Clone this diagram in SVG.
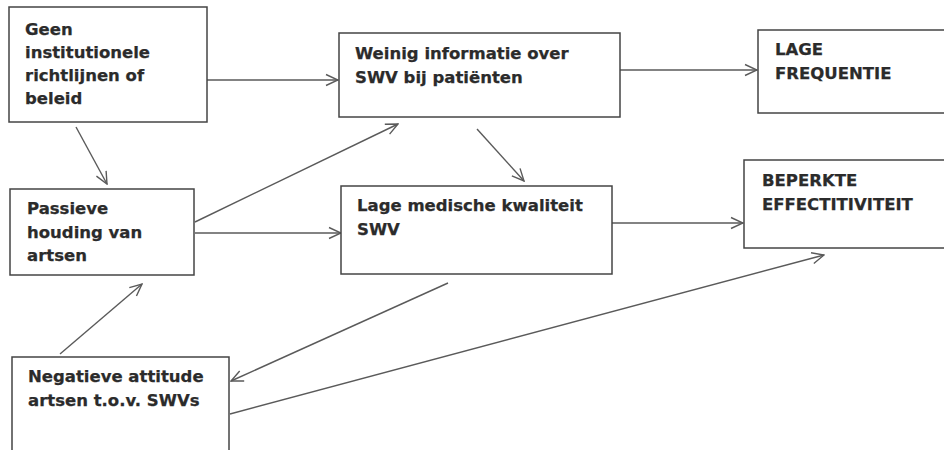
<svg xmlns="http://www.w3.org/2000/svg" width="944" height="450" viewBox="0 0 944 450">
<style>
.box{fill:#fff;stroke:#444;stroke-width:1.5}
.t{font-family:"DejaVu Sans",Verdana,sans-serif;font-weight:bold;font-size:16.5px;fill:#2b2b2b;stroke:#2b2b2b;stroke-width:0.25}
.c{fill:none;stroke:#5a5a5a;stroke-width:1.4;marker-end:url(#ah)}
</style>
<defs>
<marker id="ah" viewBox="0 0 14 14" refX="13" refY="7" markerWidth="14" markerHeight="14" markerUnits="userSpaceOnUse" orient="auto">
<path d="M1,1.5 L13,7 L1,12.5" fill="none" stroke="#5a5a5a" stroke-width="1.4"/>
</marker>
</defs>
<rect width="944" height="450" fill="#fff"/>
<g id="connectors">
<line class="c" x1="207" y1="80" x2="338" y2="80"/>
<line class="c" x1="620" y1="70" x2="757" y2="70"/>
<line class="c" x1="76" y1="127" x2="107" y2="184"/>
<line class="c" x1="195" y1="222" x2="398" y2="124"/>
<line class="c" x1="195" y1="233" x2="341" y2="233"/>
<line class="c" x1="477" y1="129" x2="524" y2="181"/>
<line class="c" x1="612" y1="223" x2="743" y2="223"/>
<line class="c" x1="60" y1="354" x2="142" y2="284"/>
<line class="c" x1="448" y1="283" x2="231" y2="381"/>
<line class="c" x1="230" y1="414" x2="824" y2="255"/>
</g>
<g id="n1">
<rect class="box" x="9" y="7" width="198" height="115"/>
<text class="t" x="25" y="35">Geen</text>
<text class="t" x="25" y="58">institutionele</text>
<text class="t" x="25" y="81">richtlijnen of</text>
<text class="t" x="25" y="104">beleid</text>
</g>
<g id="n2">
<rect class="box" x="339" y="33" width="281" height="84"/>
<text class="t" x="355" y="59">Weinig informatie over</text>
<text class="t" x="355" y="83">SWV bij patiënten</text>
</g>
<g id="n3">
<rect class="box" x="758" y="30" width="200" height="83"/>
<text class="t" x="775" y="55">LAGE</text>
<text class="t" x="775" y="79">FREQUENTIE</text>
</g>
<g id="n4">
<rect class="box" x="10" y="189" width="184" height="86"/>
<text class="t" x="27" y="214">Passieve</text>
<text class="t" x="27" y="237.5">houding van</text>
<text class="t" x="27" y="261">artsen</text>
</g>
<g id="n5">
<rect class="box" x="341" y="186" width="271" height="88"/>
<text class="t" x="357" y="211">Lage medische kwaliteit</text>
<text class="t" x="357" y="235">SWV</text>
</g>
<g id="n6">
<rect class="box" x="744" y="160" width="214" height="88"/>
<text class="t" x="762" y="186">BEPERKTE</text>
<text class="t" x="762" y="210">EFFECTITIVITEIT</text>
</g>
<g id="n7">
<rect class="box" x="12" y="357" width="217" height="100"/>
<text class="t" x="28" y="382">Negatieve attitude</text>
<text class="t" x="28" y="406">artsen t.o.v. SWVs</text>
</g>
</svg>
